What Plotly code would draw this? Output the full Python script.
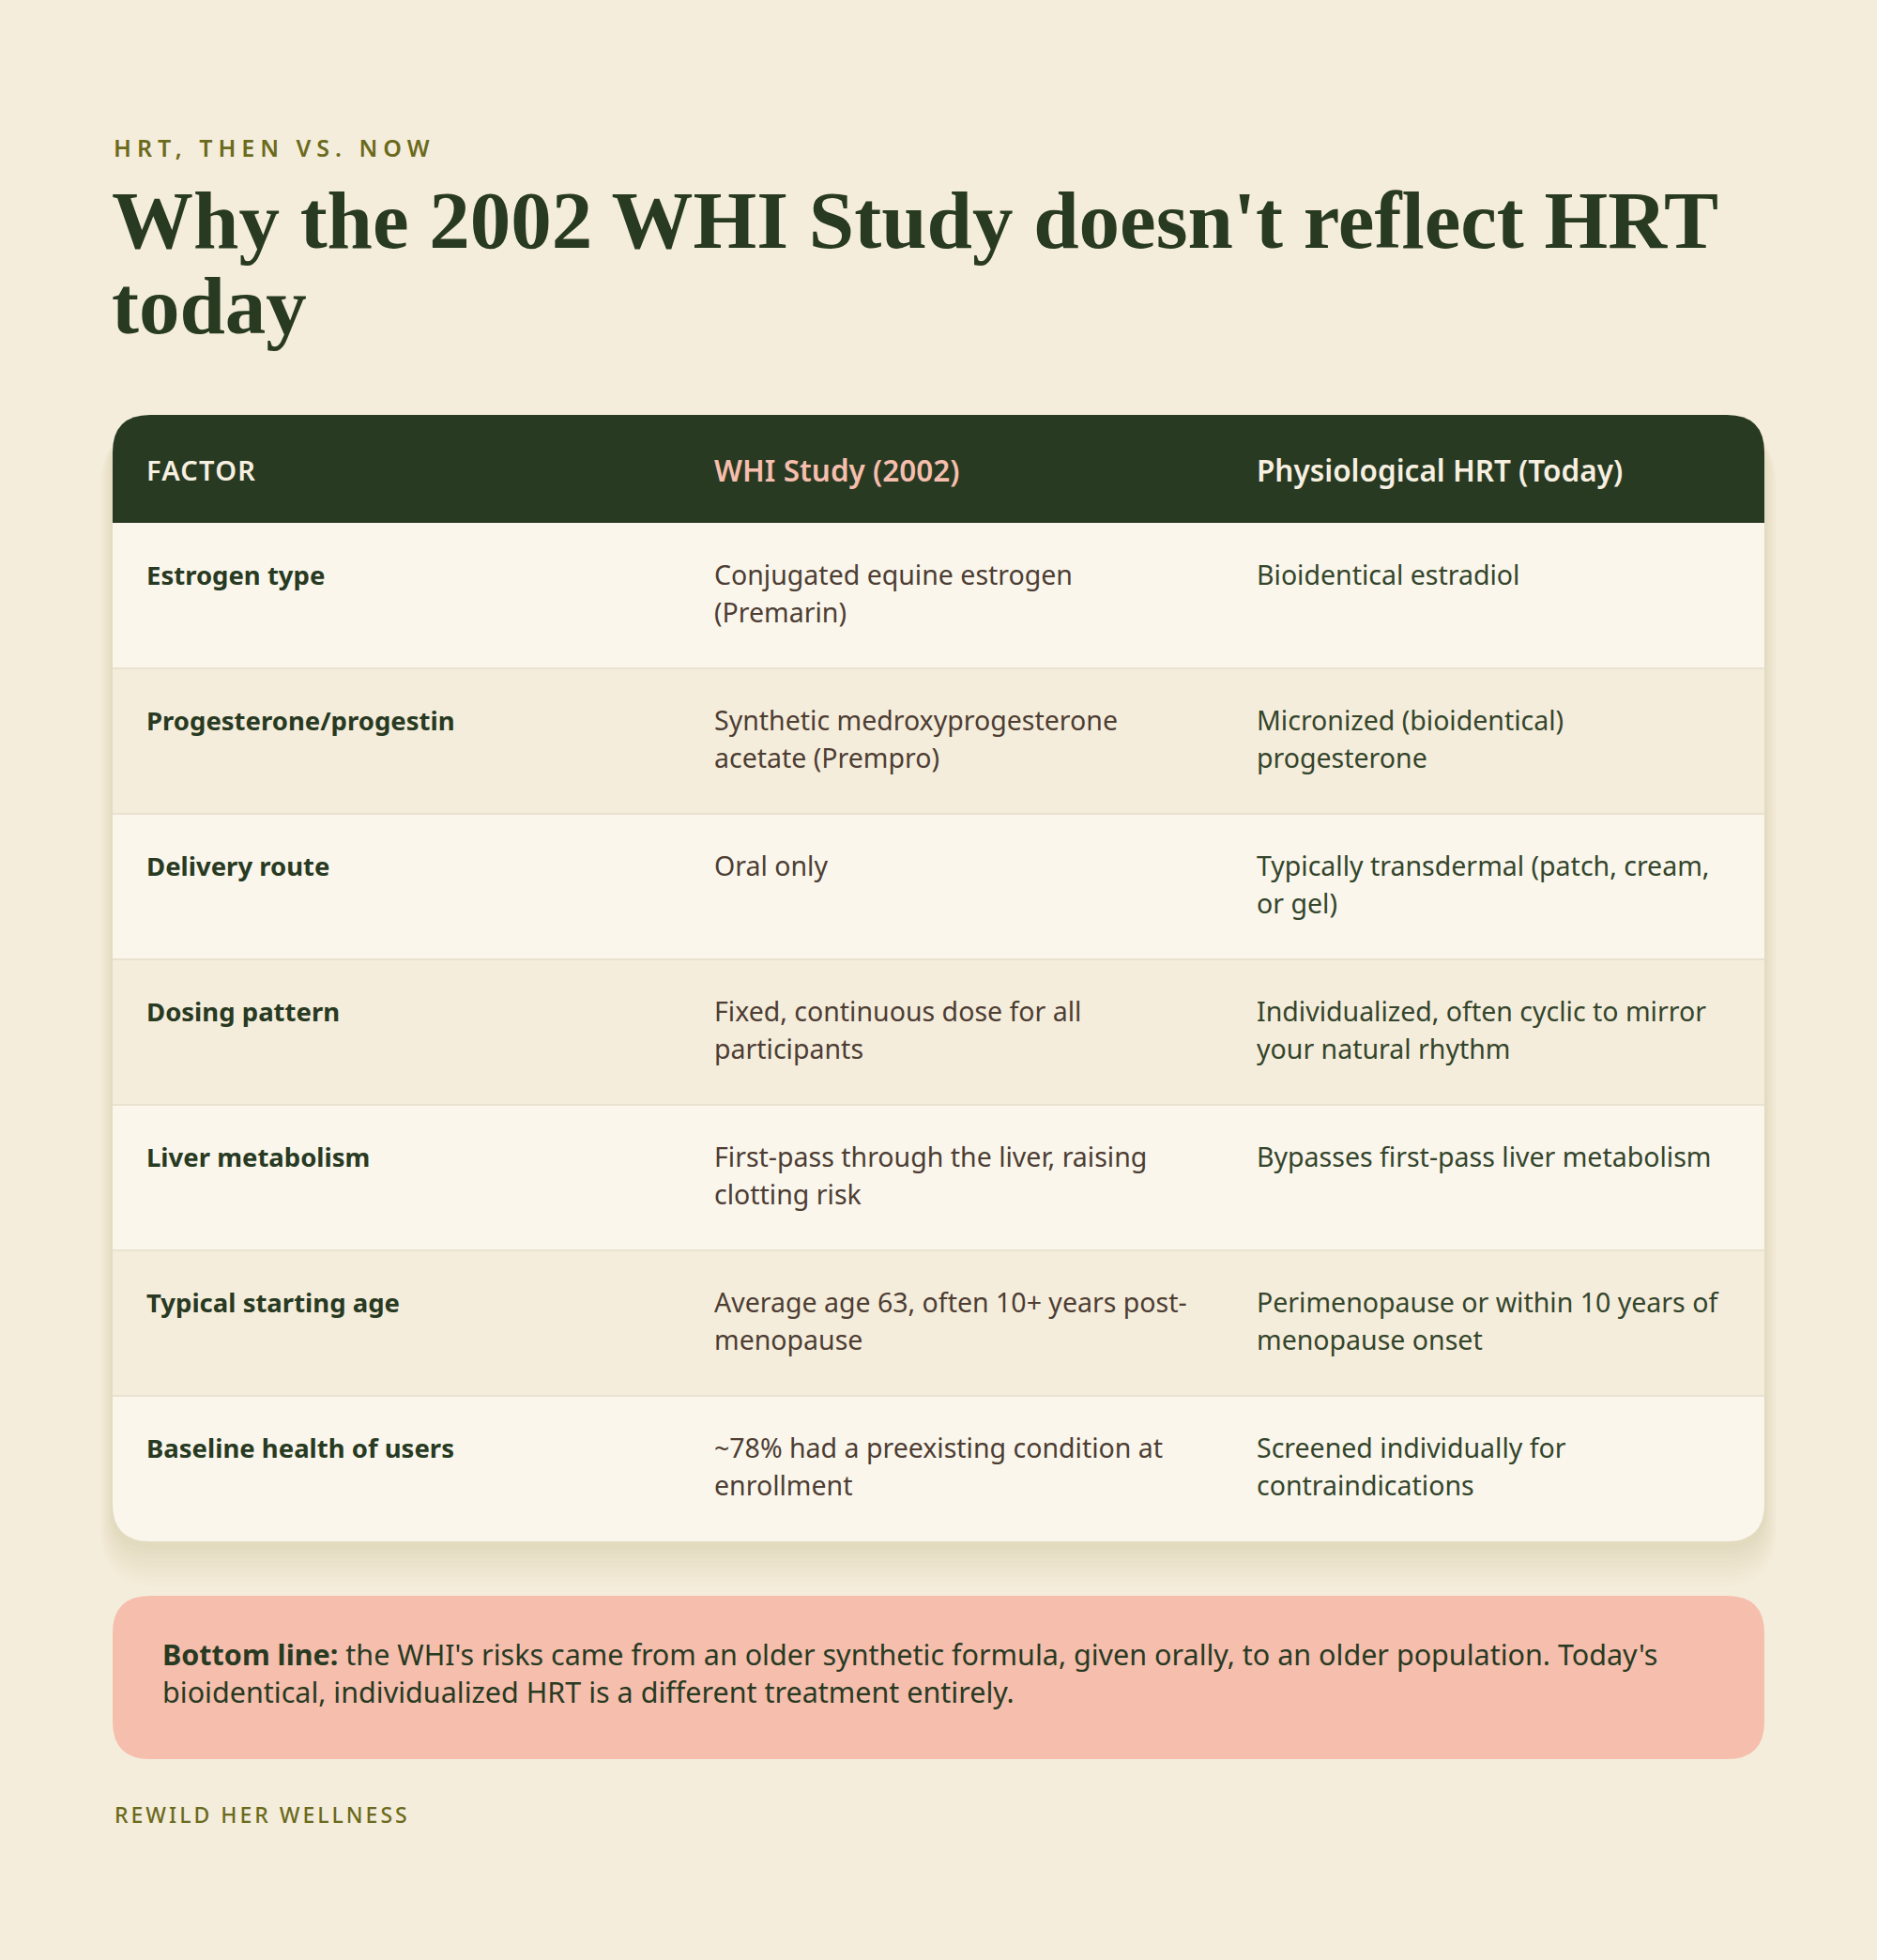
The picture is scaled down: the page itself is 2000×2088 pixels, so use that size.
import plotly.graph_objects as go

# ── Content ────────────────────────────────────────────────────────────────
KICKER = "HRT, THEN VS. NOW"
TITLE_LINES = ["Why the 2002 WHI Study doesn't reflect HRT", "today"]
HEADERS = ["FACTOR", "WHI Study (2002)", "Physiological HRT (Today)"]

factors = [
    "Estrogen type",
    "Progesterone/progestin",
    "Delivery route",
    "Dosing pattern",
    "Liver metabolism",
    "Typical starting age",
    "Baseline health of users",
]
whi_2002 = [
    ["Conjugated equine estrogen", "(Premarin)"],
    ["Synthetic medroxyprogesterone", "acetate (Prempro)"],
    ["Oral only"],
    ["Fixed, continuous dose for all", "participants"],
    ["First-pass through the liver, raising", "clotting risk"],
    ["Average age 63, often 10+ years post-", "menopause"],
    ["~78% had a preexisting condition at", "enrollment"],
]
hrt_today = [
    ["Bioidentical estradiol"],
    ["Micronized (bioidentical)", "progesterone"],
    ["Typically transdermal (patch, cream,", "or gel)"],
    ["Individualized, often cyclic to mirror", "your natural rhythm"],
    ["Bypasses first-pass liver metabolism"],
    ["Perimenopause or within 10 years of", "menopause onset"],
    ["Screened individually for", "contraindications"],
]
BOTTOM_LINES = [
    "<b>Bottom line:</b> the WHI's risks came from an older synthetic formula, given orally, to an older population. Today's",
    "bioidentical, individualized HRT is a different treatment entirely.",
]
FOOTER = "REWILD HER WELLNESS"

# ── Palette / geometry ─────────────────────────────────────────────────────
BG = "#F5EDDB"
DARK = "#283A22"
OLIVE = "#6B6A1C"
PINK = "#F6BEAD"
ROW_LIGHT = "#FAF6EC"
ROW_ALT = "#F5EDDC"
MID_TXT = "#4D3D33"
RIGHT_TXT = "#34452B"

W, H = 2000, 2088
X0, X1 = 120, 1880
TOP, HEAD_H, ROW_H, R = 442, 115, 155, 40
COL_X = [154, 759, 1337]
BODY = "Noto Sans"
SERIF = "Liberation Serif"


def rounded(x0, y0, x1, y1, r, tl=True, tr=True, br=True, bl=True):
    """SVG path for a rect with optionally rounded corners (y grows down)."""
    p = f"M {x0 + (r if tl else 0)},{y0} L {x1 - (r if tr else 0)},{y0} "
    p += f"Q {x1},{y0} {x1},{y0 + r} " if tr else ""
    p += f"L {x1},{y1 - (r if br else 0)} "
    p += f"Q {x1},{y1} {x1 - r},{y1} " if br else ""
    p += f"L {x0 + (r if bl else 0)},{y1} "
    p += f"Q {x0},{y1} {x0},{y1 - r} " if bl else ""
    p += f"L {x0},{y0 + (r if tl else 0)} "
    p += f"Q {x0},{y0} {x0 + r},{y0} " if tl else ""
    return p + "Z"


def tracked(s, px):
    # letter-spacing via an inline span style (passed through to the svg tspan)
    return f'<span style="letter-spacing:{px}px">{s}</span>'


fig = go.Figure()
shapes, notes = [], []


def text(x, y, s, size, color, family=BODY, weight=400):
    notes.append(dict(x=x, y=y, text=s, showarrow=False, xanchor="left",
                      yanchor="middle", align="left",
                      font=dict(family=family, size=size, color=color,
                                weight=weight)))


n = len(factors)
bottom = TOP + HEAD_H + n * ROW_H

# soft shadow under the card
for i in range(9):
    g = 4 + i * 5
    shapes.append(dict(type="path", path=rounded(X0 - g * 0.3, TOP + 14, X1 + g * 0.3,
                                                 bottom + g + 4, R + g * 0.5),
                       fillcolor="rgba(120,100,50,0.017)", line=dict(width=0),
                       layer="below"))

# header band
shapes.append(dict(type="path", path=rounded(X0, TOP, X1, TOP + HEAD_H, R, br=False, bl=False),
                   fillcolor=DARK, line=dict(width=0)))
for j, h in enumerate(HEADERS):
    label = tracked(h, 1.2) if j == 0 else h
    text(COL_X[j], TOP + HEAD_H / 2 + 1, label, 29 if j == 0 else 31.5,
         PINK if j == 1 else "#F7F0E1", weight=600)

# body rows
for i in range(n):
    y0 = TOP + HEAD_H + i * ROW_H
    last = i == n - 1
    shapes.append(dict(type="path",
                       path=rounded(X0, y0, X1, y0 + ROW_H, R, tl=False, tr=False,
                                    br=last, bl=last),
                       fillcolor=ROW_LIGHT if i % 2 == 0 else ROW_ALT, line=dict(width=0)))
    if i > 0:
        shapes.append(dict(type="line", x0=X0, x1=X1, y0=y0, y1=y0,
                           line=dict(color="#EAE2D0", width=2)))
    text(COL_X[0], y0 + 55, factors[i], 27.5, DARK, weight=700)
    for k, ln in enumerate(whi_2002[i]):
        text(COL_X[1], y0 + 55 + k * 40, ln, 28.5, MID_TXT)
    for k, ln in enumerate(hrt_today[i]):
        text(COL_X[2], y0 + 55 + k * 40, ln, 28.5, RIGHT_TXT)

# bottom-line callout
shapes.append(dict(type="path", path=rounded(X0, 1700, X1, 1874, R),
                   fillcolor=PINK, line=dict(width=0)))
for k, ln in enumerate(BOTTOM_LINES):
    text(171, 1762 + k * 40, ln, 30.5, DARK)

# headings and footer
text(119, 157, tracked(KICKER, 6), 25, OLIVE, weight=600)
for k, ln in enumerate(TITLE_LINES):
    text(117, 234 + k * 91, ln, 87, DARK, family=SERIF, weight=700)
text(120, 1933, tracked(FOOTER, 3), 23, OLIVE, weight=500)

fig.update_layout(
    width=W, height=H, paper_bgcolor=BG, plot_bgcolor=BG,
    margin=dict(l=0, r=0, t=0, b=0), showlegend=False,
    xaxis=dict(range=[0, W], visible=False, fixedrange=True),
    yaxis=dict(range=[H, 0], visible=False, fixedrange=True),
    shapes=shapes, annotations=notes,
)
fig.write_html("out.html", config={"displayModeBar": False},
               post_script="document.body.style.margin='0';"
                           "document.body.style.background='#F5EDDB';")
